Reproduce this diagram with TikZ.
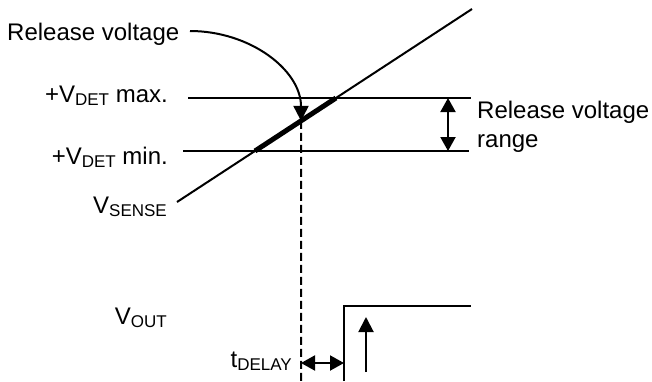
\documentclass[tikz,border=0pt]{standalone}
\usepackage{fontspec}
\setmainfont{Liberation Sans}
\usetikzlibrary{arrows.meta}
\newcommand{\mysub}[1]{\raisebox{-3pt}{\fontsize{17}{17}\selectfont #1}}
\begin{document}
\begin{tikzpicture}[x=1pt,y=-1pt,
  lbl/.style={inner sep=0pt,font=\fontsize{24}{29}\selectfont},
  ln/.style={line width=2pt},
  tip/.style={-{Triangle[length=15pt,width=15pt]}},
  dtip/.style={{Triangle[length=14pt,width=15pt]}-{Triangle[length=14pt,width=15pt]}}]
\useasboundingbox (0,0) rectangle (652,381);
% labels
\node[lbl,anchor=base west] (rel) at (7,40) {Release voltage};
\node[lbl,anchor=base east] (vmax) at (168,102) {+V\mysub{DET} max.};
\node[lbl,anchor=base east] (vmin) at (168,164) {+V\mysub{DET} min.};
\node[lbl,anchor=base east] (vsense) at (167,213) {V\mysub{SENSE}};
\node[lbl,anchor=base east] (vout) at (167,324) {V\mysub{OUT}};
\node[lbl,anchor=base east] (tdel) at (292,367) {t\mysub{DELAY}};
\node[lbl,anchor=north west,align=left] (range) at (477,101) {Release voltage\\range};
% geometry
\coordinate (maxL) at (188,98);
\coordinate (maxR) at (471,98);
\coordinate (minL) at (183,151);
\coordinate (minR) at (469,151);
\coordinate (sA) at (177,202);
\coordinate (sB) at (472,9);
\coordinate (thA) at (intersection of sA--sB and minL--minR);
\coordinate (thB) at (intersection of sA--sB and maxL--maxR);
\coordinate (rv) at (intersection of sA--sB and 301,0--301,400);
\coordinate (rvs) at (190,31);
\coordinate (dashE) at (301,381);
\coordinate (rngT) at (448,98);
\coordinate (rngB) at (448,151);
\coordinate (stB) at (344,381);
\coordinate (stC) at (344,306);
\coordinate (stR) at (471,306);
\coordinate (upB) at (366,372);
\coordinate (upT) at (366,317);
\coordinate (dlL) at (301,363);
\coordinate (dlR) at (344,363);
\draw[ln] (maxL) -- (maxR);
\draw[ln] (minL) -- (minR);
\draw[ln] (sA) -- (sB);
\draw[line width=5pt] (thA) -- (thB);
\draw[ln,dash pattern=on 8pt off 4pt] (rv) -- (dashE);
\draw[ln,tip] (rvs) .. controls (250,31) and (301,70) .. (rv);
\draw[ln,dtip] (rngT) -- (rngB);
\draw[ln] (stB) -- (stC) -- (stR);
\draw[ln,tip] (upB) -- (upT);
\draw[ln,dtip] (dlL) -- (dlR);
\end{tikzpicture}
\end{document}
